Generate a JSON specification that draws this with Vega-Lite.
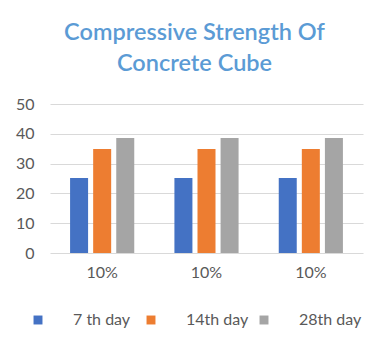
{
  "$schema": "https://vega.github.io/schema/vega-lite/v6.json",
  "width": 313,
  "height": 149,
  "autosize": {"type": "none"},
  "padding": {"left": 50, "top": 104, "right": 25, "bottom": 98},
  "background": "white",
  "title": {
    "text": ["Compressive Strength Of", "Concrete Cube"],
    "font": "Lato",
    "fontSize": 23.5,
    "fontWeight": 600,
    "color": "#5B9BD5",
    "anchor": "middle",
    "dx": -12,
    "offset": 21,
    "lineHeight": 31
  },
  "data": {
    "values": [
      {"sample": "1", "day": "7 th day", "strength": 25.2},
      {"sample": "1", "day": "14th day", "strength": 34.9},
      {"sample": "1", "day": "28th day", "strength": 38.6},
      {"sample": "2", "day": "7 th day", "strength": 25.2},
      {"sample": "2", "day": "14th day", "strength": 34.9},
      {"sample": "2", "day": "28th day", "strength": 38.6},
      {"sample": "3", "day": "7 th day", "strength": 25.2},
      {"sample": "3", "day": "14th day", "strength": 34.9},
      {"sample": "3", "day": "28th day", "strength": 38.6}
    ]
  },
  "mark": {"type": "bar"},
  "encoding": {
    "x": {
      "field": "sample",
      "type": "nominal",
      "scale": {"paddingInner": 0, "paddingOuter": 0},
      "axis": {
        "title": null,
        "labelExpr": "'10%'",
        "labelAngle": 0,
        "ticks": false,
        "domain": false,
        "labelPadding": 11,
        "labelFont": "Lato",
        "labelFontSize": 16,
        "labelColor": "#595959"
      }
    },
    "xOffset": {
      "field": "day",
      "type": "nominal",
      "sort": ["7 th day", "14th day", "28th day"],
      "scale": {"paddingInner": 0.22, "paddingOuter": 0.87}
    },
    "y": {
      "field": "strength",
      "type": "quantitative",
      "scale": {"domain": [0, 50]},
      "axis": {
        "title": null,
        "values": [0, 10, 20, 30, 40, 50],
        "ticks": false,
        "domain": false,
        "grid": true,
        "gridColor": "#D9D9D9",
        "gridWidth": 1,
        "labelPadding": 16,
        "labelFont": "Lato",
        "labelFontSize": 16,
        "labelColor": "#595959"
      }
    },
    "color": {
      "field": "day",
      "type": "nominal",
      "sort": ["7 th day", "14th day", "28th day"],
      "scale": {"domain": ["7 th day", "14th day", "28th day"], "range": ["#4472C4", "#ED7D31", "#A5A5A5"]},
      "legend": {
        "title": null,
        "orient": "none",
        "direction": "horizontal",
        "legendX": -20,
        "legendY": 208,
        "padding": 0,
        "symbolType": "square",
        "symbolSize": 80,
        "symbolStrokeWidth": 0,
        "labelOffset": 27,
        "columnPadding": 7,
        "gridAlign": "all",
        "labelFont": "Lato",
        "labelFontSize": 16,
        "labelColor": "#595959"
      }
    }
  },
  "config": {
    "view": {"stroke": null}
  }
}
